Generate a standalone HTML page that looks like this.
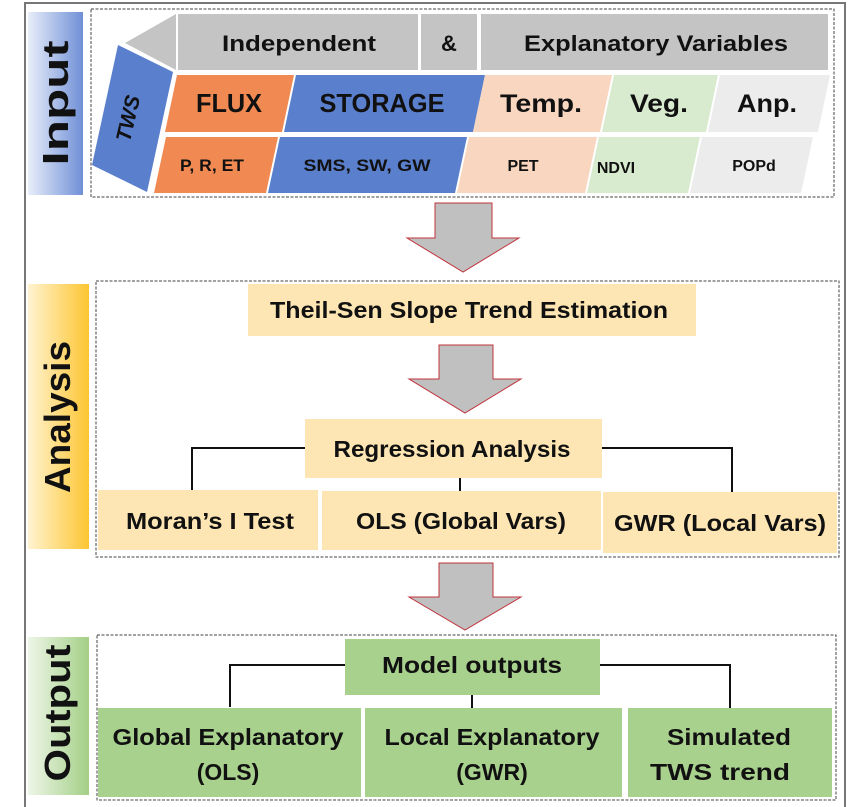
<!DOCTYPE html>
<html><head><meta charset="utf-8"><style>
html,body{margin:0;padding:0;background:#fff;}
svg{display:block;}
text{font-family:"Liberation Sans Narrow","Liberation Sans",sans-serif;font-weight:bold;fill:#111;}
.w{font-family:"Liberation Sans",sans-serif;}
</style></head><body>
<svg width="867" height="807" viewBox="0 0 867 807" xmlns="http://www.w3.org/2000/svg">
<defs>
<linearGradient id="gb" x1="0" x2="1"><stop offset="0" stop-color="#e8eefa"/><stop offset="1" stop-color="#6f8fd6"/></linearGradient>
<linearGradient id="gy" x1="0" x2="1"><stop offset="0" stop-color="#fff3d0"/><stop offset="1" stop-color="#fcc531"/></linearGradient>
<linearGradient id="gg" x1="0" x2="1"><stop offset="0" stop-color="#eef6e8"/><stop offset="1" stop-color="#a3cf86"/></linearGradient>
</defs>
<rect x="25" y="3" width="820" height="810" fill="none" stroke="#777" stroke-width="2"/>

<rect x="28" y="12" width="55" height="183" fill="url(#gb)"/>
<rect x="28" y="284" width="61" height="265" fill="url(#gy)"/>
<rect x="28" y="637" width="61" height="158" fill="url(#gg)"/>
<text class="w" x="0" y="0" font-size="36" text-anchor="middle" transform="translate(68,103) rotate(-90)" textLength="125" lengthAdjust="spacingAndGlyphs">Input</text>
<text class="w" x="0" y="0" font-size="36" text-anchor="middle" transform="translate(70,417) rotate(-90)" textLength="152" lengthAdjust="spacingAndGlyphs">Analysis</text>
<text class="w" x="0" y="0" font-size="36" text-anchor="middle" transform="translate(70,713) rotate(-90)" textLength="137" lengthAdjust="spacingAndGlyphs">Output</text>

<rect x="91" y="9" width="743" height="188" fill="none" stroke="#444" stroke-width="1" stroke-dasharray="3,1.5"/>
<polygon points="125,43 176,14 176,70" fill="#c4c4c4"/>
<rect x="178" y="14" width="240" height="56" fill="#c4c4c4"/>
<rect x="421" y="14" width="56" height="56" fill="#c4c4c4"/>
<rect x="481" y="14" width="347" height="56" fill="#c4c4c4"/>
<text x="299" y="51" font-size="22" text-anchor="middle" textLength="154" lengthAdjust="spacingAndGlyphs">Independent</text>
<text x="449" y="51" font-size="22" text-anchor="middle">&amp;</text>
<text x="656" y="51" font-size="22" text-anchor="middle" textLength="264" lengthAdjust="spacingAndGlyphs">Explanatory Variables</text>

<polygon points="118,45 173,72 147,192 92,165" fill="#5a7fcc"/>
<text class="w" x="0" y="0" font-size="21" font-style="italic" text-anchor="middle" transform="translate(135,120) rotate(-77)">TWS</text>

<polygon points="177,75 294,75 282,132 165,132" fill="#f08a52"/>
<polygon points="296,75 485,75 473,132 284,132" fill="#5a7fcc"/>
<polygon points="485,75 612,75 600,132 473,132" fill="#f8d6bf"/>
<polygon points="614,75 718,75 706,132 602,132" fill="#d8ebcf"/>
<polygon points="720,75 830,75 818,132 708,132" fill="#ececec"/>
<text x="229" y="112" font-size="26" text-anchor="middle" textLength="66" lengthAdjust="spacingAndGlyphs">FLUX</text>
<text x="382" y="112" font-size="26" text-anchor="middle" textLength="125" lengthAdjust="spacingAndGlyphs">STORAGE</text>
<text class="w" x="541" y="112" font-size="25" text-anchor="middle" textLength="82" lengthAdjust="spacingAndGlyphs">Temp.</text>
<text class="w" x="659" y="112" font-size="25" text-anchor="middle" textLength="58" lengthAdjust="spacingAndGlyphs">Veg.</text>
<text class="w" x="767" y="112" font-size="25" text-anchor="middle" textLength="60" lengthAdjust="spacingAndGlyphs">Anp.</text>

<polygon points="166,137 278,137 266,193 154,193" fill="#f08a52"/>
<polygon points="280,137 467,137 455,193 268,193" fill="#5a7fcc"/>
<polygon points="469,137 597,137 585,193 457,193" fill="#f8d6bf"/>
<polygon points="599,137 700,137 688,193 587,193" fill="#d8ebcf"/>
<polygon points="702,137 813,137 801,193 690,193" fill="#ececec"/>
<text x="212" y="171" font-size="17" text-anchor="middle" textLength="64" lengthAdjust="spacingAndGlyphs">P, R, ET</text>
<text x="367" y="171" font-size="17" text-anchor="middle" textLength="127" lengthAdjust="spacingAndGlyphs">SMS, SW, GW</text>
<text class="w" x="523" y="171" font-size="16" text-anchor="middle">PET</text>
<text class="w" x="616" y="173" font-size="16" text-anchor="middle">NDVI</text>
<text class="w" x="754" y="171" font-size="16" text-anchor="middle">POPd</text>

<polygon points="435,203 492,203 492,238 519,238 463,272 407,238 435,238" fill="#c0c0c0" stroke="#c0343c" stroke-width="1"/>
<polygon points="439,345 493,345 493,379 521,379 465,413 409,379 439,379" fill="#c0c0c0" stroke="#c0343c" stroke-width="1"/>
<polygon points="439,563 493,563 493,597 521,597 465,630 409,597 439,597" fill="#c0c0c0" stroke="#c0343c" stroke-width="1"/>

<rect x="96" y="281" width="743" height="276" fill="none" stroke="#444" stroke-width="1" stroke-dasharray="3,1.5"/>
<rect x="248" y="284" width="448" height="52" fill="#fde6b3"/>
<text x="469" y="318" font-size="23" text-anchor="middle" textLength="398" lengthAdjust="spacingAndGlyphs">Theil-Sen Slope Trend Estimation</text>
<path d="M192,491 V448 H305 M602,448 H732 V492 M460,478 V491" fill="none" stroke="#111" stroke-width="2"/>
<rect x="305" y="419" width="297" height="59" fill="#fde6b3"/>
<text x="452" y="457" font-size="23" text-anchor="middle" textLength="237" lengthAdjust="spacingAndGlyphs">Regression Analysis</text>
<rect x="98" y="490" width="220" height="60" fill="#fde6b3"/>
<rect x="322" y="491" width="279" height="59" fill="#fde6b3"/>
<rect x="603" y="492" width="234" height="61" fill="#fde6b3"/>
<text x="210" y="529" font-size="23" text-anchor="middle" textLength="168" lengthAdjust="spacingAndGlyphs">Moran’s I Test</text>
<text x="461" y="529" font-size="23" text-anchor="middle" textLength="210" lengthAdjust="spacingAndGlyphs">OLS (Global Vars)</text>
<text x="720" y="531" font-size="23" text-anchor="middle" textLength="212" lengthAdjust="spacingAndGlyphs">GWR (Local Vars)</text>

<rect x="97" y="635" width="739" height="165" fill="none" stroke="#444" stroke-width="1" stroke-dasharray="3,1.5"/>
<path d="M230,707 V665 H345 M600,665 H730 V708 M472,695 V708" fill="none" stroke="#111" stroke-width="2"/>
<rect x="345" y="639" width="255" height="56" fill="#a9d18e"/>
<text x="472" y="673" font-size="23" text-anchor="middle" textLength="180" lengthAdjust="spacingAndGlyphs">Model outputs</text>
<rect x="98" y="708" width="263" height="89" fill="#a9d18e"/>
<rect x="365" y="708" width="257" height="89" fill="#a9d18e"/>
<rect x="628" y="708" width="204" height="89" fill="#a9d18e"/>
<text x="228" y="745" font-size="23" text-anchor="middle" textLength="231" lengthAdjust="spacingAndGlyphs">Global Explanatory</text>
<text x="228" y="780" font-size="23" text-anchor="middle">(OLS)</text>
<text x="492" y="745" font-size="23" text-anchor="middle" textLength="215" lengthAdjust="spacingAndGlyphs">Local Explanatory</text>
<text x="492" y="780" font-size="23" text-anchor="middle">(GWR)</text>
<text x="729" y="745" font-size="23" text-anchor="middle" textLength="124" lengthAdjust="spacingAndGlyphs">Simulated</text>
<text x="720" y="780" font-size="23" text-anchor="middle" textLength="140" lengthAdjust="spacingAndGlyphs">TWS trend</text>
</svg>
</body></html>
